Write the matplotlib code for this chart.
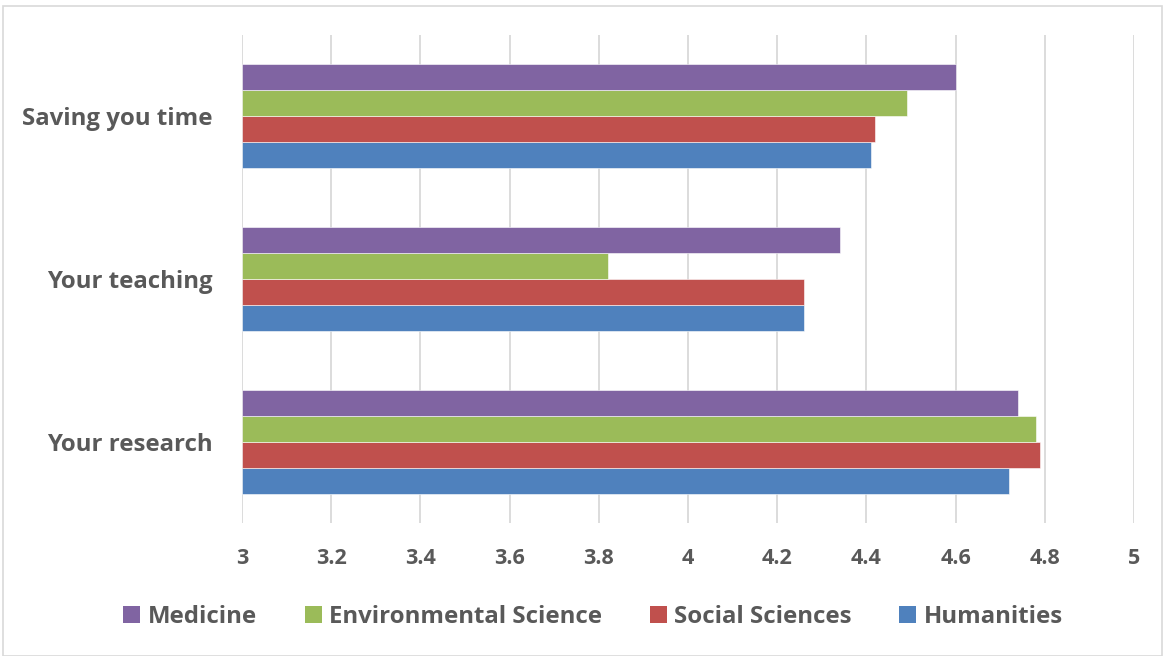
import matplotlib
matplotlib.use("Agg")
import matplotlib.pyplot as plt
from matplotlib.patches import Rectangle, Patch
import numpy as np

categories = ["Your research", "Your teaching", "Saving you time"]
series_names = ["Humanities", "Social Sciences", "Environmental Science", "Medicine"]
humanities = [4.72, 4.26, 4.41]
social = [4.79, 4.26, 4.42]
environmental = [4.78, 3.82, 4.49]
medicine = [4.74, 4.34, 4.60]
colors = ["#4F81BD", "#C0504D", "#9BBB59", "#8064A2"]
xticks = [3, 3.2, 3.4, 3.6, 3.8, 4, 4.2, 4.4, 4.6, 4.8, 5]
xticklabels = ["3", "3.2", "3.4", "3.6", "3.8", "4", "4.2", "4.4", "4.6", "4.8", "5"]

FONT = ['Open Sans', 'DejaVu Sans']
plt.rcParams['font.family'] = FONT
txt = "#595959"

fig = plt.figure(figsize=(11.63, 6.56), dpi=100)
ax = fig.add_axes([242/1163, 1-523/656, (1134-242)/1163, (523-35)/656])

y = np.arange(len(categories))
h = 0.16
data = [humanities, social, environmental, medicine]
for i, (vals, c) in enumerate(zip(data, colors)):
    offs = (i - 1.5) * h
    ax.barh(y + offs, [v - 3 for v in vals], left=3, height=h, color=c,
            edgecolor="white", linewidth=0.4, zorder=3)

ax.set_xlim(3, 5)
ax.set_ylim(-0.5, 2.5)
ax.set_xticks(xticks)
ax.set_xticklabels(xticklabels, fontsize=15.5, fontweight="bold", color=txt)
ax.set_yticks(y)
ax.set_yticklabels(categories, fontsize=17.3, fontweight="bold", color=txt)
ax.tick_params(axis="both", length=0)
ax.tick_params(axis="x", pad=18)
ax.tick_params(axis="y", pad=21)
ax.grid(axis="x", color="#D9D9D9", linewidth=1.3, zorder=0)
for s in ax.spines.values():
    s.set_visible(False)

handles = [Patch(facecolor=colors[i], edgecolor="none") for i in [3, 2, 1, 0]]
labels = [series_names[i] for i in [3, 2, 1, 0]]
fig.legend(handles, labels, loc="center", bbox_to_anchor=(593/1163, 1-617/656), ncol=4,
           frameon=False, prop={"family": FONT, "size": 17.3, "weight": "bold"},
           labelcolor=txt, handlelength=0.7, handleheight=0.7, handletextpad=0.3,
           columnspacing=2.0)

fig.patches.append(Rectangle((3/1163, 0), 1-4/1163, 1-6/656, transform=fig.transFigure,
                             fill=False, edgecolor="#D9D9D9", linewidth=1.2))

fig.savefig("out.png", dpi=100)
